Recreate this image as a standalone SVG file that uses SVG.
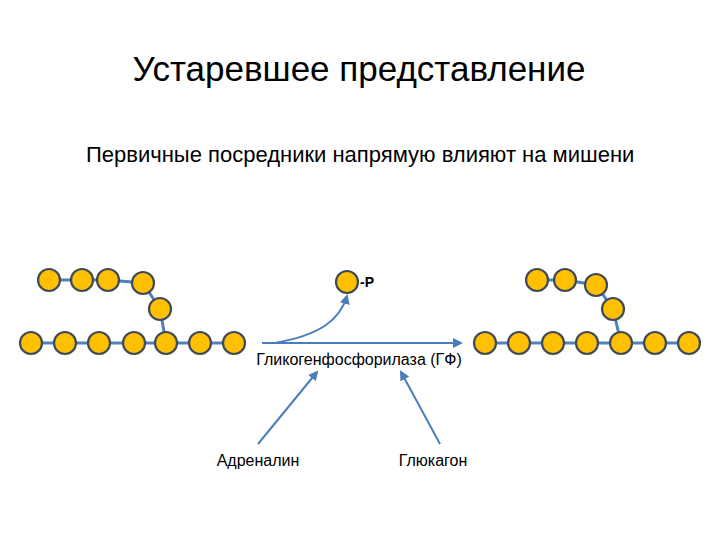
<svg xmlns="http://www.w3.org/2000/svg" width="720" height="540" viewBox="0 0 720 540">
<defs>
<style>
.c{fill:#FFC000;stroke:#3F4A5A;stroke-width:2.2}
.l{stroke:#4F81BD;stroke-width:3;fill:none}
.a{stroke:#4A7EBB;stroke-width:2;fill:none}
text{font-family:"Liberation Sans",Calibri,sans-serif;fill:#000}
</style>
<marker id="m" viewBox="0 0 10 10" refX="8" refY="5" markerWidth="5" markerHeight="5" orient="auto"><path d="M0,0L10,5L0,10z" fill="#4A7EBB"/></marker>
</defs>
<rect width="720" height="540" fill="#fff"/>
<text x="359" y="81" font-size="35" text-anchor="middle">Устаревшее представление</text>
<text x="86" y="162" font-size="22">Первичные посредники напрямую влияют на мишени</text>
<g id="chain-left">
<path class="l" d="M49,280H108L143,283L160,309L166,343M30,343H235"/>
<circle class="c" cx="49" cy="280" r="11"/><circle class="c" cx="82" cy="280" r="11"/><circle class="c" cx="108" cy="280" r="11"/><circle class="c" cx="143" cy="283" r="11"/><circle class="c" cx="160" cy="309" r="11"/>
<circle class="c" cx="31" cy="343" r="11"/><circle class="c" cx="65" cy="343" r="11"/><circle class="c" cx="99" cy="343" r="11"/><circle class="c" cx="134" cy="343" r="11"/><circle class="c" cx="166" cy="343" r="11"/><circle class="c" cx="200" cy="343" r="11"/><circle class="c" cx="234" cy="343" r="11"/>
</g>
<g id="chain-right">
<path class="l" d="M537,280H565L596,285L613,309L621,343M485,343H689"/>
<circle class="c" cx="537" cy="280" r="11"/><circle class="c" cx="565" cy="280" r="11"/><circle class="c" cx="596" cy="285" r="11"/><circle class="c" cx="613" cy="309" r="11"/>
<circle class="c" cx="485" cy="343" r="11"/><circle class="c" cx="519" cy="343" r="11"/><circle class="c" cx="553" cy="343" r="11"/><circle class="c" cx="587" cy="343" r="11"/><circle class="c" cx="621" cy="343" r="11"/><circle class="c" cx="655" cy="343" r="11"/><circle class="c" cx="689" cy="343" r="11"/>
</g>
<g id="phosphate">
<circle class="c" cx="347" cy="282" r="11"/>
<text x="360" y="287" font-size="14" font-weight="bold">-P</text>
</g>
<g id="connectors">
<path class="a" d="M262,343H461" marker-end="url(#m)" stroke-width="3"/>
<path class="a" d="M275,343C320,335 340,320 347,296" marker-end="url(#m)" stroke-width="3"/>
<path class="a" d="M258,444L317,372" marker-end="url(#m)"/>
<path class="a" d="M440,444L401,372" marker-end="url(#m)"/>
</g>
<text x="359" y="365" font-size="16" text-anchor="middle">Гликогенфосфорилаза (ГФ)</text>
<text x="258" y="466" font-size="16" text-anchor="middle">Адреналин</text>
<text x="433" y="466" font-size="16" text-anchor="middle">Глюкагон</text>
</svg>
